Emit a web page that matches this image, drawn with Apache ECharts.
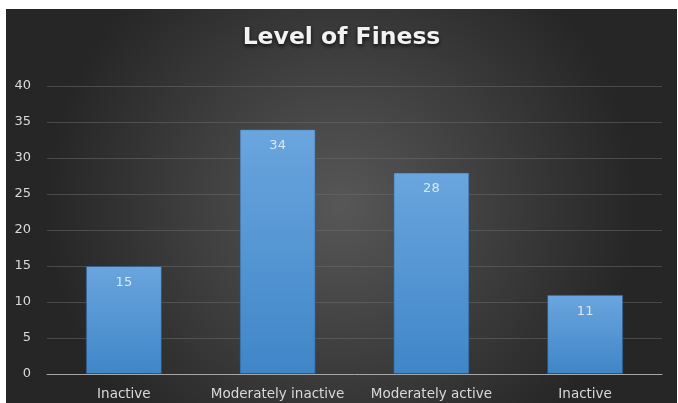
<!DOCTYPE html>
<html>
<head>
<meta charset="utf-8">
<script src="https://cdn.jsdelivr.net/npm/echarts@6/dist/echarts.min.js"></script>
<style>
  html, body { margin: 0; padding: 0; background: #fff; }
  #chart { position: absolute; left: 6px; top: 9px; width: 671px; height: 394px; }
</style>
</head>
<body>
<div id="chart"></div>
<script>
// 数据
const categories = ['Inactive', 'Moderately inactive', 'Moderately active', 'Inactive']
const values = [15, 34, 28, 11]
const yTicks = { min: 0, max: 40, interval: 5 }

const myChart = echarts.init(document.getElementById('chart'))
const option = {
  backgroundColor: {
    type: 'radial',
    x: 0.5, y: 0.5, r: 0.75,
    colorStops: [
      { offset: 0, color: '#575757' },
      { offset: 1, color: '#262626' }
    ]
  },
  title: {
    text: 'Level of Finess',
    left: 'center',
    top: 12,
    textStyle: {
      color: '#f2f2f2',
      fontFamily: 'DejaVu Sans',
      fontWeight: 'bold',
      fontSize: 23.5,
      textShadowColor: 'rgba(0,0,0,0.8)',
      textShadowBlur: 4,
      textShadowOffsetY: 2
    }
  },
  grid: { left: 41, right: 15, top: 77, bottom: 29 },
  xAxis: {
    type: 'category',
    data: categories,
    axisLine: { lineStyle: { color: '#a6a6a6', width: 1 } },
    axisTick: { show: false },
    axisLabel: { color: '#d9d9d9', fontFamily: 'DejaVu Sans', fontSize: 13.5, margin: 13, interval: 0 }
  },
  yAxis: {
    type: 'value',
    min: yTicks.min,
    max: yTicks.max,
    interval: yTicks.interval,
    axisLine: { show: false },
    axisTick: { show: false },
    axisLabel: { color: '#d9d9d9', fontFamily: 'DejaVu Sans', fontSize: 13, margin: 16 },
    splitLine: { lineStyle: { color: 'rgba(110,110,110,0.5)', width: 1 } }
  },
  series: [
    {
      type: 'bar',
      data: values,
      barWidth: '49.5%',
      itemStyle: {
        color: {
          type: 'linear', x: 0, y: 0, x2: 0, y2: 1,
          colorStops: [
            { offset: 0, color: '#6aa5de' },
            { offset: 1, color: '#3f86c8' }
          ]
        },
        borderColor: 'rgba(40,80,130,0.6)',
        borderWidth: 1
      },
      label: {
        show: true,
        position: 'insideTop',
        distance: 10,
        color: '#dce6f1',
        fontFamily: 'DejaVu Sans',
        fontSize: 13
      }
    }
  ]
}
myChart.setOption(option)
</script>
</body>
</html>
